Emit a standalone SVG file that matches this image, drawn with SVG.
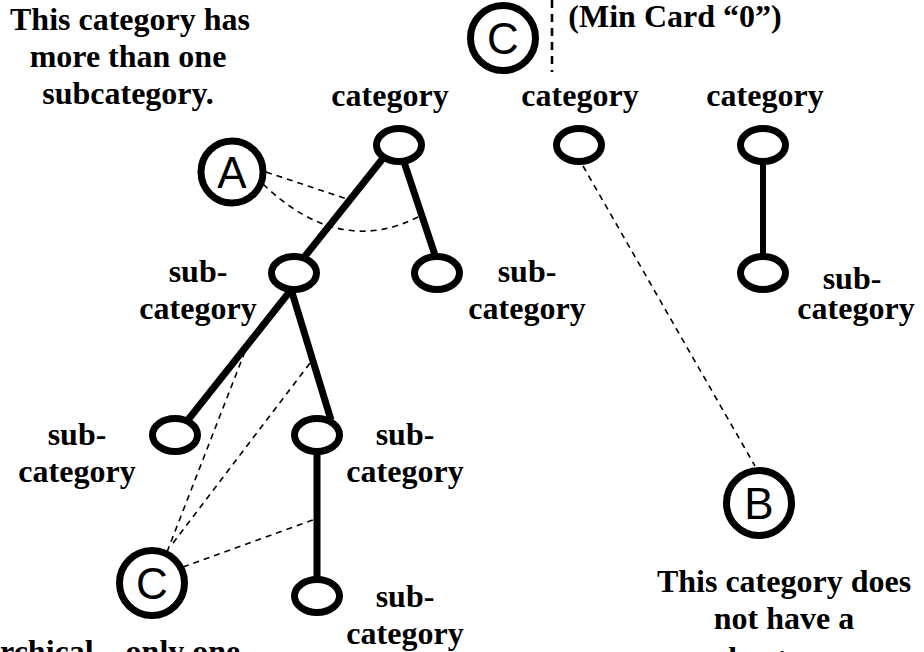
<svg xmlns="http://www.w3.org/2000/svg" width="924" height="652" viewBox="0 0 924 652">
<style>
.t{font-family:"Liberation Serif","Times New Roman",serif;font-weight:bold;font-size:32px;fill:#000;text-anchor:middle}
.n{fill:#fff;stroke:#000;stroke-width:7}
.c{fill:#fff;stroke:#000;stroke-width:7}
.l{font-family:"Liberation Sans",Arial,sans-serif;font-size:44px;fill:#000;text-anchor:middle}
.e{stroke:#000;stroke-width:7;fill:none}
.d{stroke:#000;stroke-width:1.6;fill:none;stroke-dasharray:6 5}
</style>
<rect width="924" height="652" fill="#fff"/>
<g id="connectors">
<line class="e" x1="392" y1="147" x2="294" y2="270"/>
<line class="e" x1="399" y1="147" x2="440" y2="270"/>
<line class="e" x1="302" y1="276" x2="180" y2="430"/>
<line class="e" x1="287" y1="276" x2="331" y2="420"/>
<line class="e" x1="317" y1="438" x2="317" y2="594"/>
<line class="e" x1="763" y1="148" x2="763" y2="270" style="stroke-width:6"/>
<line class="d" x1="266" y1="172" x2="347" y2="199"/>
<path class="d" d="M263,184 Q340,258 420,216"/>
<line class="d" x1="583" y1="166" x2="755" y2="466"/>
<line class="d" x1="167" y1="552" x2="251" y2="336"/>
<line class="d" x1="173" y1="543" x2="310" y2="363"/>
<line class="d" x1="183" y1="567" x2="313" y2="520"/>
<line class="d" x1="552" y1="0" x2="552" y2="72" style="stroke-width:2.6;stroke-dasharray:8 6"/>
</g>
<g id="cat1"><ellipse class="n" cx="399" cy="145" rx="22.5" ry="16.5"/><text class="t" x="390" y="106">category</text></g>
<g id="cat2"><ellipse class="n" cx="579" cy="145" rx="22.5" ry="16.5"/><text class="t" x="580" y="106">category</text></g>
<g id="cat3"><ellipse class="n" cx="763" cy="145" rx="22.5" ry="16.5"/><text class="t" x="765" y="106">category</text></g>
<g id="sub1L"><ellipse class="n" cx="294" cy="273" rx="22.5" ry="16.5"/><text class="t" x="198" y="282">sub-</text><text class="t" x="198" y="319">category</text></g>
<g id="sub1R"><ellipse class="n" cx="437" cy="273" rx="22.5" ry="16.5"/><text class="t" x="527" y="282">sub-</text><text class="t" x="527" y="319">category</text></g>
<g id="sub3"><ellipse class="n" cx="763" cy="273" rx="22.5" ry="16.5"/><text class="t" x="852" y="289">sub-</text><text class="t" x="856" y="319">category</text></g>
<g id="l3L"><ellipse class="n" cx="175" cy="435" rx="22.5" ry="16.5"/><text class="t" x="77" y="445">sub-</text><text class="t" x="77" y="482">category</text></g>
<g id="l3R"><ellipse class="n" cx="317" cy="435" rx="22.5" ry="16.5"/><text class="t" x="405" y="445">sub-</text><text class="t" x="405" y="482">category</text></g>
<g id="l4"><ellipse class="n" cx="317" cy="596" rx="22.5" ry="16.5"/><text class="t" x="405" y="607">sub-</text><text class="t" x="405" y="644">category</text></g>
<g id="A"><circle class="c" cx="232" cy="172" r="31"/><text class="l" x="232" y="188">A</text></g>
<g id="B"><circle class="c" cx="759" cy="503" r="32.5"/><text class="l" x="759" y="519">B</text></g>
<g id="Ctop"><circle class="c" cx="503" cy="38" r="32.5"/><text class="l" x="503" y="54">C</text></g>
<g id="Cbot"><circle class="c" cx="152" cy="583" r="32.5"/><text class="l" x="152" y="599">C</text></g>
<g id="notes">
<text class="t" x="130" y="30">This category has</text>
<text class="t" x="128" y="67">more than one</text>
<text class="t" x="128" y="104">subcategory.</text>
<text class="t" x="675" y="27">(Min Card “0”)</text>
<text class="t" x="784" y="592">This category does</text>
<text class="t" x="784" y="629">not have a</text>
<text class="t" x="784" y="669">subcategory.</text>
<text class="t" x="0" y="662" style="text-anchor:start">rchical – only one</text>
</g>
</svg>
